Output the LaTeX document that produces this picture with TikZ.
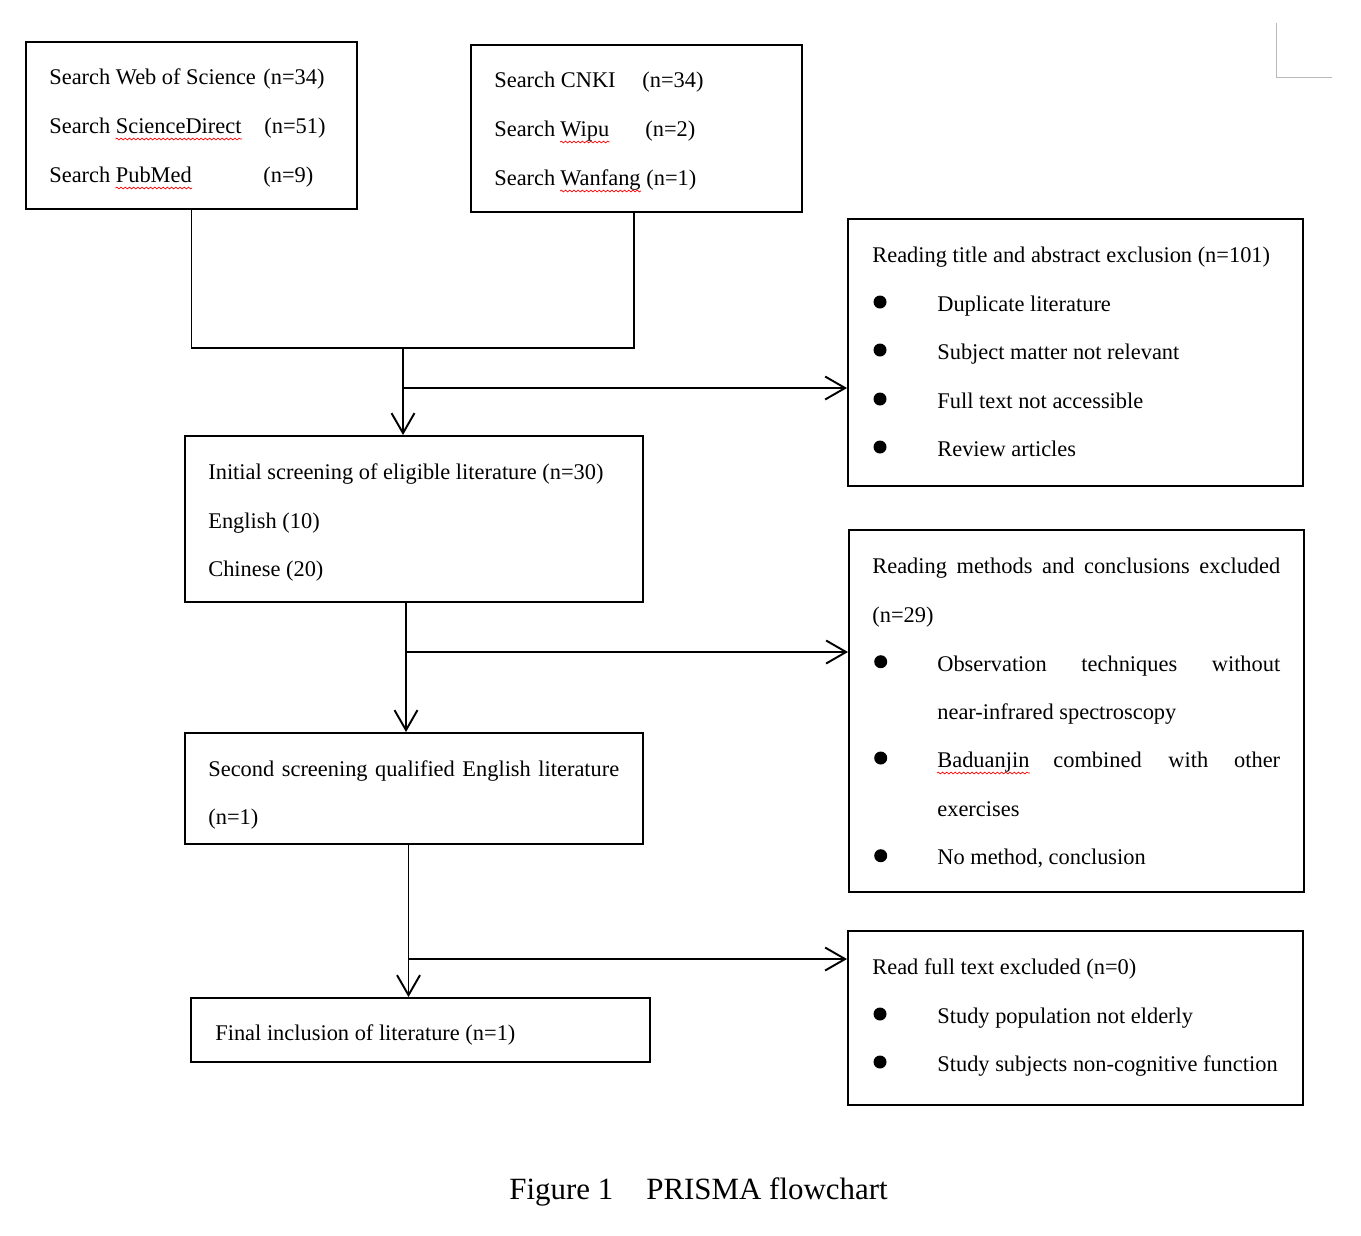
\documentclass[tikz,border=0pt]{standalone}
\usepackage{fontspec}
\setmainfont{Liberation Serif}
\usetikzlibrary{arrows.meta,fit,decorations.pathmorphing}
\newcommand\bodyfs{\fontsize{12.75}{15}\selectfont}
\newcommand\capfs{\fontsize{17.6}{20}\selectfont}
\tikzset{
  box/.style={draw, line width=1.1pt, inner sep=0pt},
  txt/.style={anchor=base west, inner sep=0pt, font=\bodyfs},
  ln/.style={line width=1.1pt},
  arr/.style={line width=1.1pt, -{Straight Barb[length=0.4cm, width=0.46cm, line width=1.1pt]}},
  dot/.style={circle, fill=black, inner sep=0pt, minimum size=0.26cm},
  squig/.style={red, line width=0.4pt, decorate, decoration={snake, amplitude=0.5pt, segment length=2.4pt}},
}
\begin{document}
\begin{tikzpicture}[x=0.02cm, y=-0.02cm]
\useasboundingbox (0,0) rectangle (1361,1235);
% corner mark
\draw[gray!55, line width=0.5pt] (1276,23) -- (1276,77) -- (1332,77);
% boxes
\node[box, fit={(26,42) (357,209)}] (b1) {};
\node[box, fit={(471,45) (802,212)}] (b2) {};
\node[box, fit={(848,219) (1303,486)}] (b4) {};
\node[box, fit={(185,436) (643,602)}] (b3) {};
\node[box, fit={(849,530) (1304,892)}] (b6) {};
\node[box, fit={(185,733) (643,844)}] (b5) {};
\node[box, fit={(848,931) (1303,1105)}] (b8) {};
\node[box, fit={(191,998) (650,1062)}] (b7) {};
% box 1 text
\node[txt] (t11a) at (49,84) {Search Web of Science};
\node[txt] (t11b) at (263,84) {(n=34)};
\node[txt] (t12a) at (49,133) {Search};
\node[txt] (t12b) at (115.5,133) {ScienceDirect};
\node[txt] (t12c) at (264,133) {(n=51)};
\node[txt] (t13a) at (49,182) {Search};
\node[txt] (t13b) at (115.5,182) {PubMed};
\node[txt] (t13c) at (263,182) {(n=9)};
\draw[squig] ([yshift=-0.12cm]t12b.base west) -- ([yshift=-0.12cm]t12b.base east);
\draw[squig] ([yshift=-0.12cm]t13b.base west) -- ([yshift=-0.12cm]t13b.base east);
% box 2 text
\node[txt] (t21a) at (494,87) {Search CNKI};
\node[txt] (t21b) at (642,87) {(n=34)};
\node[txt] (t22a) at (494,136) {Search};
\node[txt] (t22b) at (560,136) {Wipu};
\node[txt] (t22c) at (645,136) {(n=2)};
\node[txt] (t23a) at (494,185) {Search};
\node[txt] (t23b) at (560,185) {Wanfang};
\node[txt] (t23c) at ([xshift=0.1cm]t23b.base east) {(n=1)};
\draw[squig] ([yshift=-0.12cm]t22b.base west) -- ([yshift=-0.12cm]t22b.base east);
\draw[squig] ([yshift=-0.12cm]t23b.base west) -- ([yshift=-0.12cm]t23b.base east);
% box 4 text
\node[txt] (t40) at (872,262) {Reading title and abstract exclusion (n=101)};
\node[dot] (d41) at (880,302) {};
\node[dot] (d42) at (880,350) {};
\node[dot] (d43) at (880,399) {};
\node[dot] (d44) at (880,447) {};
\node[txt] (t41) at (937,311) {Duplicate literature};
\node[txt] (t42) at (937,359) {Subject matter not relevant};
\node[txt] (t43) at (937,408) {Full text not accessible};
\node[txt] (t44) at (937,456) {Review articles};
% box 3 text
\node[txt] (t31) at (208,479) {Initial screening of eligible literature (n=30)};
\node[txt] (t32) at (208,528) {English (10)};
\node[txt] (t33) at (208,576) {Chinese (20)};
% box 5 text
\node[txt] (t51) at (208,776) {\makebox[8.22cm][s]{Second screening qualified English literature}};
\node[txt] (t52) at (208,824) {(n=1)};
% box 6 text
\node[txt] (t60) at (872,573) {\makebox[8.16cm][s]{Reading methods and conclusions excluded}};
\node[txt] (t60b) at (872,622) {(n=29)};
\node[dot] (d61) at (880.7,661.7) {};
\node[dot] (d62) at (880.7,758) {};
\node[dot] (d63) at (880.7,855.7) {};
\node[txt] (t61) at (937,671) {\makebox[6.86cm][s]{Observation techniques without}};
\node[txt] (t61b) at (937,719) {near-infrared spectroscopy};
\node[txt] (t62a) at (937,767) {Baduanjin};
\node[txt] (t62b) at (1053,767) {combined};
\node[txt] (t62c) at (1168,767) {with};
\node[txt, anchor=base east] (t62d) at (1280.5,767) {other};
\draw[squig] ([yshift=-0.12cm]t62a.base west) -- ([yshift=-0.12cm]t62a.base east);
\node[txt] (t62e) at (937,816) {exercises};
\node[txt] (t63) at (937,864) {No method, conclusion};
% box 8 text
\node[txt] (t80) at (872,974) {Read full text excluded (n=0)};
\node[dot] (d81) at (880,1014) {};
\node[dot] (d82) at (880,1062) {};
\node[txt] (t81) at (937,1023) {Study population not elderly};
\node[txt] (t82) at (937,1071) {Study subjects non-cognitive function};
% box 7 text
\node[txt] (t71) at (215,1040) {Final inclusion of literature (n=1)};
% caption
\node[anchor=base west, inner sep=0pt, font=\capfs] (c1) at (509,1199) {Figure 1};
\node[anchor=base west, inner sep=0pt, font=\capfs] (c2) at (646,1199) {PRISMA flowchart};
% connectors
\coordinate (j) at (403,348);
\coordinate (v1) at (634,0);
\draw[ln] (b1.south) -- (b1.south |- j) -- (v1 |- j) -- (v1 |- b2.south);
\draw[arr] (j) -- (j |- b3.north);
\coordinate (h1) at (403,388);
\draw[arr] (h1) -- (h1 -| b4.west);
\coordinate (v2) at (406,0);
\draw[arr] (b3.south -| v2) -- (b5.north -| v2);
\coordinate (h2) at (406,652);
\draw[arr] (h2) -- (h2 -| b6.west);
\coordinate (v3) at (408.5,0);
\draw[arr] (b5.south -| v3) -- (b7.north -| v3);
\coordinate (h3) at (408.5,959);
\draw[arr] (h3) -- (h3 -| b8.west);
\end{tikzpicture}
\end{document}
